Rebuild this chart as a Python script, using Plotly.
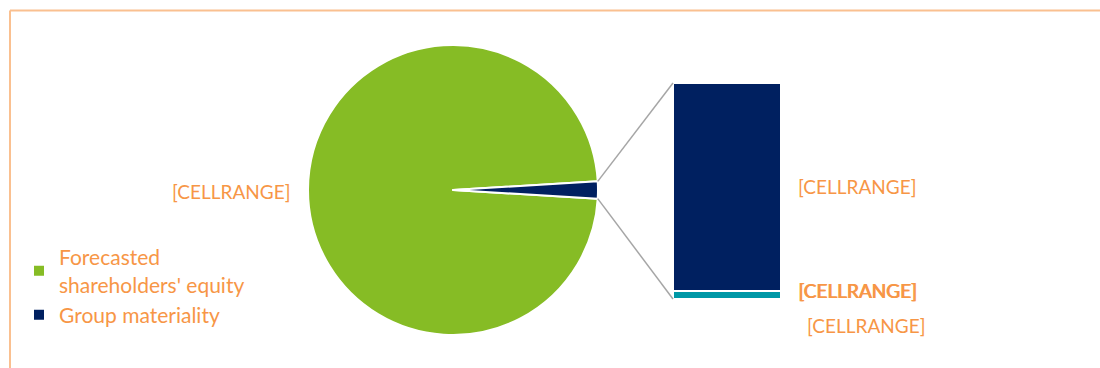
import math
import plotly.graph_objects as go

# ---- data ----
pie_labels = ["Forecasted<br>shareholders' equity", "Group materiality"]
pie_values = [98.1, 1.9]
pie_colors = ["#86BC25", "#002060"]

bar_labels = ["Other", "Group materiality"]
bar_values = [3.7, 96.3]
bar_colors = ["#0098A6", "#002060"]

label_text = "[CELLRANGE]"
orange = "#F79646"
font_family = "Lato, 'Open Sans', sans-serif"

W, H = 1100, 368


def px(x):
    return x / W


def py(y):
    return 1 - y / H


# pie geometry (reference pixels)
pie_cx, pie_cy, pie_r = 453, 190, 145
pie_dom_x = [px(pie_cx - pie_r), px(pie_cx + pie_r)]
pie_dom_y = [py(pie_cy + pie_r), py(pie_cy - pie_r)]

total = sum(pie_values)
small_deg = pie_values[1] / total * 360
rotation = 90 + small_deg / 2  # start of big slice, clockwise from 12 o'clock

fig = go.Figure()
fig.add_trace(go.Pie(
    labels=pie_labels, values=pie_values, sort=False, direction="clockwise",
    rotation=rotation, textinfo="none", hoverinfo="label+value",
    marker=dict(colors=pie_colors, line=dict(color="white", width=2)),
    domain=dict(x=pie_dom_x, y=pie_dom_y), showlegend=True,
))

# stacked bar (secondary breakdown)
bx0, bx1, by0, by1 = 673, 781, 83, 299
for lab, val, col in zip(bar_labels, bar_values, bar_colors):
    fig.add_trace(go.Bar(
        x=[0], y=[val], name=lab, marker=dict(color=col, line=dict(color="white", width=1.5)),
        width=1, showlegend=False, xaxis="x", yaxis="y",
    ))

fig.update_layout(
    barmode="stack",
    width=W, height=H,
    margin=dict(l=0, r=0, t=0, b=0),
    paper_bgcolor="white", plot_bgcolor="rgba(0,0,0,0)",
    xaxis=dict(domain=[px(bx0), px(bx1)], range=[-0.5, 0.5], visible=False, fixedrange=True),
    yaxis=dict(domain=[py(by1), py(by0)], range=[0, sum(bar_values)], visible=False, fixedrange=True),
    legend=dict(x=px(19), y=py(237), xanchor="left", yanchor="top", traceorder="normal",
                font=dict(family=font_family, size=21, color=orange),
                itemsizing="constant", tracegroupgap=0, bgcolor="rgba(0,0,0,0)"),
    font=dict(family=font_family),
)

# connector lines from the small slice edges to the bar corners
half = math.radians(small_deg / 2)
top_pt = (pie_cx + pie_r * math.cos(half), pie_cy - pie_r * math.sin(half))
bot_pt = (pie_cx + pie_r * math.cos(half), pie_cy + pie_r * math.sin(half))
for (ax, ay), (qx, qy) in [(top_pt, (bx0, by0)), (bot_pt, (bx0, by1))]:
    fig.add_shape(type="line", xref="paper", yref="paper",
                  x0=px(ax), y0=py(ay), x1=px(qx), y1=py(qy),
                  line=dict(color="#A6A6A6", width=1.5))

# outer border (only top and left edges are visible)
border = dict(color="#FAC090", width=2)
fig.add_shape(type="line", xref="paper", yref="paper",
              x0=px(10), y0=py(10.5), x1=1.0, y1=py(10.5), line=border)
fig.add_shape(type="line", xref="paper", yref="paper",
              x0=px(10), y0=py(10.5), x1=px(10), y1=0.0, line=border)

# data labels (the label near the bar bottom is two overlapping labels)
labels_pos = [(231, 191), (857, 186), (857, 290), (857.6, 290), (866, 325)]
for x, y in labels_pos:
    fig.add_annotation(x=px(x), y=py(y), xref="paper", yref="paper", text=label_text,
                       xanchor="center", yanchor="middle", showarrow=False,
                       font=dict(family=font_family, size=19, color=orange))

fig.write_html(
    "out.html",
    config={"displayModeBar": False},
    post_script="document.body.style.margin='0';document.body.style.overflow='hidden';",
)
